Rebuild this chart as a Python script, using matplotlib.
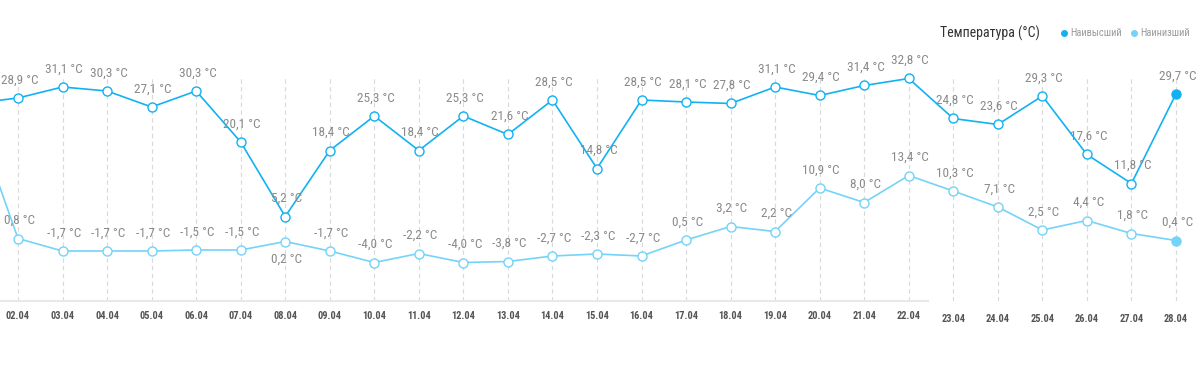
import matplotlib
matplotlib.use("Agg")
import matplotlib.pyplot as plt
from matplotlib import font_manager
from matplotlib.lines import Line2D

names = {f.name for f in font_manager.fontManager.ttflist}
FONT = "Roboto"
for cand in ("Roboto Condensed", "Liberation Sans Narrow", "Open Sans Condensed",
             "DejaVu Sans Condensed"):
    if cand in names:
        FONT = cand
        break
plt.rcParams["font.family"] = [FONT, "DejaVu Sans"]
CONDENSED = FONT != "Roboto"

dates = ["02.04", "03.04", "04.04", "05.04", "06.04", "07.04", "08.04", "09.04",
         "10.04", "11.04", "12.04", "13.04", "14.04", "15.04", "16.04", "17.04",
         "18.04", "19.04", "20.04", "21.04", "22.04", "23.04", "24.04", "25.04",
         "26.04", "27.04", "28.04"]
high = [28.9, 31.1, 30.3, 27.1, 30.3, 20.1, 5.2, 18.4, 25.3, 18.4, 25.3, 21.6,
        28.5, 14.8, 28.5, 28.1, 27.8, 31.1, 29.4, 31.4, 32.8, 24.8, 23.6, 29.3,
        17.6, 11.8, 29.7]
low = [0.8, -1.7, -1.7, -1.7, -1.5, -1.5, 0.2, -1.7, -4.0, -2.2, -4.0, -3.8,
       -2.7, -2.3, -2.7, 0.5, 3.2, 2.2, 10.9, 8.0, 13.4, 10.3, 7.1, 2.5, 4.4,
       1.8, 0.4]
# previous day (01.04), only partly visible at the left edge
prev_high = 27.8
prev_low = 26.0

C_HIGH = "#12b2f2"
C_LOW = "#74d3f8"

fig = plt.figure(figsize=(12, 3.7), dpi=100)
ax = fig.add_axes([0.0, 69 / 370, 1.0, (301 - 78) / 370])

n = len(dates)
xs = list(range(n))
ax.set_xlim(-0.404, 26.54)
ax.set_ylim(-11.7, 32.9)

for vals, prev, col in ((high, prev_high, C_HIGH), (low, prev_low, C_LOW)):
    ax.plot([-1] + xs, [prev] + vals, color=col, lw=1.2, clip_on=False, zorder=3)
    ax.plot(xs[:-1], vals[:-1], ls="none", marker="o", ms=6.5, mfc="white",
            mec=col, mew=1.0, clip_on=False, zorder=4)
    ax.plot(xs[-1:], vals[-1:], ls="none", marker="o", ms=6.5, mfc=col,
            mec=col, clip_on=False, zorder=4)

def fmt(v):
    return f"{v:.1f}".replace(".", ",") + " °C"

LBL = 9.5 if CONDENSED else 8.5
below_low = {"08.04"}
for i, d in enumerate(dates):
    ax.annotate(fmt(high[i]), (i, high[i]), xytext=(1, 13), textcoords="offset points",
                ha="center", va="center", fontsize=LBL, color="#8a8a8a", zorder=5,
                annotation_clip=False)
    dy = -12.5 if d in below_low else 13
    ax.annotate(fmt(low[i]), (i, low[i]), xytext=(1, dy), textcoords="offset points",
                ha="center", va="center", fontsize=LBL, color="#8a8a8a", zorder=5,
                annotation_clip=False)

ax.set_xticks(xs)
ax.set_xticklabels(dates, fontsize=7.5 if CONDENSED else 7, fontweight="bold",
                   color="#555555")
ax.tick_params(axis="x", length=0, pad=7)
for i, t in enumerate(ax.xaxis.get_major_ticks()):
    if i >= 21:
        t.set_pad(9.5)
ax.set_yticks([])
ax.grid(axis="x", color="#d9d9d9", lw=0.8, ls=(0, (4, 3)))
ax.set_axisbelow(True)
for s in ("top", "left", "right"):
    ax.spines[s].set_visible(False)
ax.spines["bottom"].set_color("#e8e8e8")
ax.spines["bottom"].set_linewidth(1.5)
ax.spines["bottom"].set_bounds(-0.404, 20.43)
ax.patch.set_alpha(0)

# legend
W, H = 1200, 370
def fx(px):
    return px / W
def fy(py):
    return 1 - py / H

fig.text(fx(940), fy(33), "Температура (°C)", fontsize=10 if CONDENSED else 9,
         color="#333333", ha="left", va="center")
for xdot, label, col in ((1064, "Наивысший", C_HIGH), (1134, "Наинизший", C_LOW)):
    fig.add_artist(Line2D([fx(xdot)], [fy(33)], marker="o", ms=4, color=col,
                          transform=fig.transFigure))
    fig.text(fx(xdot + 6), fy(33), label, fontsize=7.5 if CONDENSED else 6.8,
             color="#9a9a9a", ha="left", va="center")

fig.savefig("out.png", dpi=100)
